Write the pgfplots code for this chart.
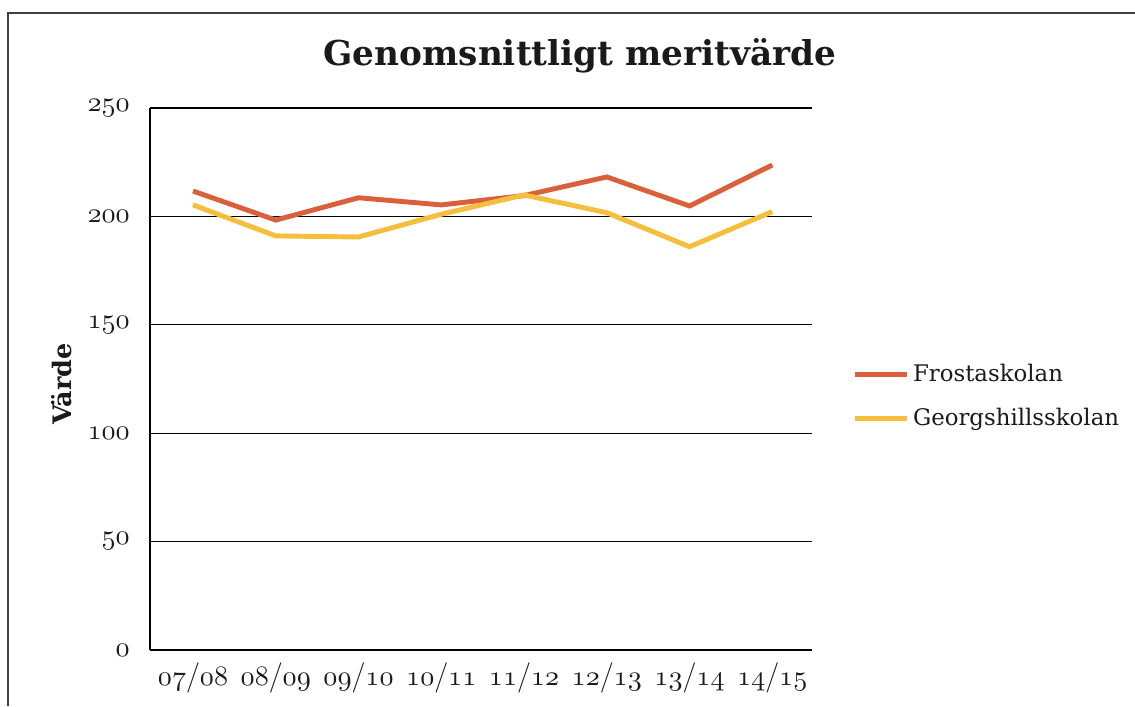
\documentclass[border=0pt]{standalone}
\usepackage{pgfplots}
\pgfplotsset{compat=1.18}
\usepackage{fontspec}
\setmainfont{DejaVu Serif}
\DeclareFontFamily{OML}{cmm}{\skewchar\font'177}
\DeclareFontShape{OML}{cmm}{m}{it}{<-> cmmi10}{}
\definecolor{frosta}{HTML}{D9603B}
\definecolor{georgs}{HTML}{F5BE3C}
\definecolor{txt}{HTML}{1A1A1A}
\newcommand{\os}[1]{{\fontsize{16}{19}\selectfont$\mathnormal{#1}$}}
\newcommand{\yr}[2]{{\fontsize{16}{19}\selectfont$\mathnormal{#1}/\mathnormal{#2}$}}
\begin{document}
\begin{tikzpicture}
\useasboundingbox (0,0) rectangle (22.7cm,14.12cm);
\draw[black!75, line width=0.9pt] (0.16cm,0cm) -- (0.16cm,13.86cm) -- (22.7cm,13.86cm);
\node[font=\bfseries\fontsize{19.5}{22}\selectfont, text=txt] at (11.6cm,13.0cm) {Genomsnittligt meritvärde};
\node[font=\bfseries\fontsize{14.5}{17}\selectfont, text=txt, rotate=90] at (1.24cm,6.44cm) {Värde};
\begin{axis}[
  at={(3.0cm,1.12cm)}, anchor=south west,
  width=13.24cm, height=10.84cm, scale only axis,
  xmin=-0.52, xmax=7.48, ymin=0, ymax=250,
  xtick={0,...,7},
  xticklabels={\yr{07}{08},\yr{08}{09},\yr{09}{10},\yr{10}{11},\yr{11}{12},\yr{12}{13},\yr{13}{14},\yr{14}{15}},
  ytick={0,50,100,150,200,250},
  yticklabels={\os{0},\os{50},\os{100},\os{150},\os{200},\os{250}},
  tick style={draw=none},
  tick label style={text=txt},
  yticklabel style={xshift=-8pt},
  xticklabel style={yshift=-4pt},
  ymajorgrids, grid style={black, line width=0.7pt},
  axis x line*=bottom, axis y line*=left,
  axis line style={black, line width=0.8pt, -},
  legend style={at={(rel axis cs:1.06,0.468)}, anchor=west, draw=none, fill=none,
    font=\fontsize{13}{16}\selectfont, text=txt, row sep=10pt, inner sep=0pt,
    /tikz/every even column/.append style={column sep=0pt}},
  legend cell align=left,
  legend image code/.code={\draw[#1, line width=2.8pt] (0cm,0cm) -- (1.05cm,0cm);},
]
\addplot[frosta, line width=2.8pt] coordinates {(0,211.7) (1,198.3) (2,208.6) (3,205.3) (4,209.6) (5,218.2) (6,204.8) (7,223.7)};
\addlegendentry{Frostaskolan}
\addplot[georgs, line width=2.8pt] coordinates {(0,205.3) (1,191.0) (2,190.5) (3,201.0) (4,209.9) (5,201.7) (6,186.0) (7,202.2)};
\addlegendentry{Georgshillsskolan}
\end{axis}
\end{tikzpicture}
\end{document}
